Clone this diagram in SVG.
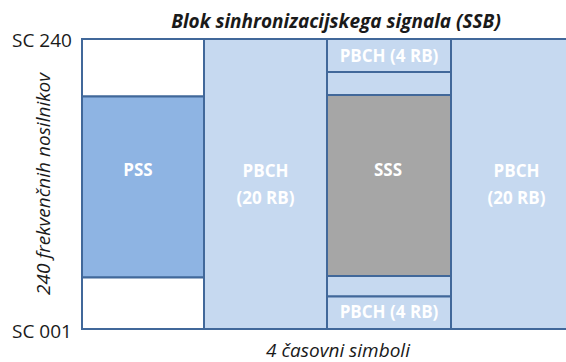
<svg xmlns="http://www.w3.org/2000/svg" width="566" height="362" viewBox="0 0 566 362">
  <style>
    .cell { stroke: #41689a; stroke-width: 2; }
    .empty { fill: #ffffff; }
    .pbch { fill: #c6d9f0; }
    .pss { fill: #8eb4e3; }
    .sss { fill: #a6a6a6; }
    .lbl { font-family: "Open Sans", "Liberation Sans", sans-serif; font-weight: bold; font-size: 17px; fill: #ffffff; text-anchor: middle; }
    .axis { font-family: "Open Sans", "Liberation Sans", sans-serif; font-size: 19px; fill: #1a1a1a; }
    .title { font-family: "Open Sans", "Liberation Sans", sans-serif; font-size: 19px; font-weight: bold; font-style: italic; fill: #1a1a1a; text-anchor: middle; }
  </style>

  <rect width="566" height="362" fill="#ffffff"/>

  <text class="title" x="336" y="28">Blok sinhronizacijskega signala (SSB)</text>

  <!-- Symbol 1: PSS -->
  <g id="sym1-top">
    <rect class="cell empty" x="82" y="39" width="122" height="57.5"/>
  </g>
  <g id="pss">
    <rect class="cell pss" x="82" y="96.5" width="122" height="181"/>
    <text class="lbl" x="138" y="176">PSS</text>
  </g>
  <g id="sym1-bottom">
    <rect class="cell empty" x="82" y="277.5" width="122" height="51.5"/>
  </g>

  <!-- Symbol 2: PBCH -->
  <g id="pbch-20rb-a">
    <rect class="cell pbch" x="204" y="39" width="123" height="290"/>
    <text class="lbl" x="265.5" y="177">PBCH</text>
    <text class="lbl" x="265.5" y="204">(20 RB)</text>
  </g>

  <!-- Symbol 3: PBCH + SSS -->
  <g id="pbch-4rb-top">
    <rect class="cell pbch" x="327" y="39" width="124" height="33"/>
    <text class="lbl" x="389" y="62">PBCH (4 RB)</text>
  </g>
  <g id="sym3-gap-top">
    <rect class="cell pbch" x="327" y="72" width="124" height="23"/>
  </g>
  <g id="sss">
    <rect class="cell sss" x="327" y="95" width="124" height="181"/>
    <text class="lbl" x="388" y="176">SSS</text>
  </g>
  <g id="sym3-gap-bottom">
    <rect class="cell pbch" x="327" y="276" width="124" height="20.5"/>
  </g>
  <g id="pbch-4rb-bottom">
    <rect class="cell pbch" x="327" y="296.5" width="124" height="32.5"/>
    <text class="lbl" x="389" y="318">PBCH (4 RB)</text>
  </g>

  <!-- Symbol 4: PBCH -->
  <g id="pbch-20rb-b">
    <rect class="cell pbch" x="451" y="39" width="140" height="290"/>
    <text class="lbl" x="516.5" y="177">PBCH</text>
    <text class="lbl" x="516.5" y="204">(20 RB)</text>
  </g>

  <!-- Axis labels -->
  <text class="axis" x="12" y="47">SC 240</text>
  <text class="axis" x="12" y="338">SC 001</text>
  <text class="axis" font-style="italic" text-anchor="middle" transform="translate(50 184) rotate(-90)">240 frekvenčnih nosilnikov</text>
  <text class="axis" font-style="italic" text-anchor="middle" x="338" y="357">4 časovni simboli</text>
</svg>
